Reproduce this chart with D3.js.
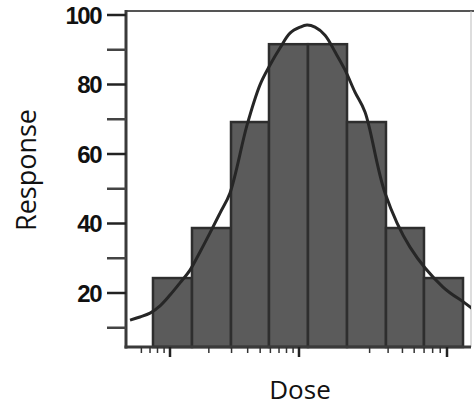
<!DOCTYPE html>
<html lang="en">
<head>
    <meta charset="UTF-8">
    <title>Dose response histogram</title>
    <style>
        body{
            overflow: hidden;
            margin: 0;
            background: #fff;
        }
    </style>
</head>
<body>
    <script src="https://cdnjs.cloudflare.com/ajax/libs/d3/7.8.2/d3.min.js"></script>
    <script>

// data
const binEdges = [0.738, 1.481, 2.971, 5.853, 11.50, 21.11, 38.70, 69.9, 128.3]
const responses = [24.3, 38.7, 69.2, 91.6, 91.6, 69.2, 38.7, 24.3]

const curveDose = [0.490, 0.585, 0.700, 0.837, 1.0, 1.195, 1.429, 1.708, 2.042, 2.442, 2.918,
    3.954, 4.985, 5.961, 7.124, 8.516, 10.16, 11.33, 12.83, 14.99, 17.51, 20.46, 23.89, 27.92,
    38.12, 56.23, 93.97, 132.3, 152.2]
const curveResp = [12.2, 13.1, 14.2, 16.3, 19.4, 22.9, 26.6, 31.8, 37.3, 43.0, 48.8,
    68.3, 79.9, 85.6, 90.5, 94.8, 96.5, 97.1, 96.5, 94.2, 89.4, 84.2, 77.8, 72.1,
    48.8, 33.2, 21.7, 17.1, 15.1]

const yMajor = [20, 40, 60, 80, 100]
const yMinor = [10, 30, 50, 70, 90]
const xMajor = [1, 10, 100]
const xMinor = [0.6, 0.7, 0.8, 0.9, 2, 3, 4, 5, 6, 7, 8, 9, 30, 40, 50, 60, 70, 80, 90]

const W = 474, H = 407
const plotL = 126, plotR = 471, plotT = 11, plotB = 347

const svg = d3.select('body')
    .append('svg')
    .attr('width', W)
    .attr('height', H)

const x = d3.scaleLog()
    .domain([1, 10, 100])
    .range([170, 299, 447])

const y = d3.scaleLinear()
    .domain([0, 100])
    .range([362.5, 15])

svg.append('clipPath').attr('id', 'plot')
    .append('rect')
    .attr('x', plotL).attr('y', plotT)
    .attr('width', plotR - plotL).attr('height', plotB - plotT)

// frame top / right
svg.append('line')
    .attr('x1', plotL).attr('x2', W).attr('y1', plotT).attr('y2', plotT)
    .attr('stroke', '#555').attr('stroke-width', 2)
svg.append('line')
    .attr('x1', plotR).attr('x2', plotR).attr('y1', plotT).attr('y2', plotB)
    .attr('stroke', '#bbb').attr('stroke-width', 1)

// bars
svg.append('g')
    .selectAll('rect')
    .data(responses)
    .join('rect')
    .attr('x', (d, i) => x(binEdges[i]))
    .attr('width', (d, i) => x(binEdges[i + 1]) - x(binEdges[i]))
    .attr('y', d => y(d))
    .attr('height', d => plotB - y(d))
    .attr('fill', '#5b5b5b')
    .attr('stroke', '#2e2e2e')
    .attr('stroke-width', 2.5)

// fitted curve
const line = d3.line()
    .x(d => x(d[0]))
    .y(d => y(d[1]))
    .curve(d3.curveCatmullRom)

svg.append('path')
    .datum(d3.zip(curveDose, curveResp))
    .attr('d', line)
    .attr('fill', 'none')
    .attr('stroke', '#262626')
    .attr('stroke-width', 3)
    .attr('clip-path', 'url(#plot)')

// y axis
svg.append('line')
    .attr('x1', plotL).attr('x2', plotL).attr('y1', plotT - 1).attr('y2', plotB + 1.5)
    .attr('stroke', '#3a3a3a').attr('stroke-width', 3)

svg.append('g')
    .selectAll('line')
    .data(yMajor.concat(yMinor))
    .join('line')
    .attr('x1', 107).attr('x2', plotL)
    .attr('y1', d => y(d)).attr('y2', d => y(d))
    .attr('stroke', d => yMajor.includes(d) ? '#222' : '#444')
    .attr('stroke-width', 2.5)

svg.append('g')
    .selectAll('text')
    .data(yMajor)
    .join('text')
    .attr('x', 101)
    .attr('y', d => y(d))
    .attr('dy', '0.36em')
    .attr('text-anchor', 'end')
    .style('font-family', '"Liberation Sans", Arial, sans-serif')
    .style('font-weight', 'bold')
    .style('font-size', '24px')
    .style('letter-spacing', '-1.5px')
    .attr('fill', '#111')
    .text(d => d)

// x axis
svg.append('line')
    .attr('x1', plotL - 1.5).attr('x2', plotR).attr('y1', plotB).attr('y2', plotB)
    .attr('stroke', '#3a3a3a').attr('stroke-width', 3)

svg.append('g')
    .selectAll('line')
    .data(xMinor)
    .join('line')
    .attr('x1', d => x(d)).attr('x2', d => x(d))
    .attr('y1', plotB).attr('y2', plotB + 6)
    .attr('stroke', '#333').attr('stroke-width', 1.5)

svg.append('g')
    .selectAll('line')
    .data(xMajor)
    .join('line')
    .attr('x1', d => x(d)).attr('x2', d => x(d))
    .attr('y1', plotB).attr('y2', plotB + 10)
    .attr('stroke', '#222').attr('stroke-width', 2.5)

// axis titles
svg.append('text')
    .attr('x', 300)
    .attr('y', 399)
    .attr('text-anchor', 'middle')
    .style('font-family', '"Open Sans", sans-serif')
    .style('font-size', '26px')
    .attr('fill', '#111')
    .text('Dose')

svg.append('text')
    .attr('transform', 'translate(36,170) rotate(-90)')
    .attr('text-anchor', 'middle')
    .style('font-family', '"Open Sans", sans-serif')
    .style('font-size', '27px')
    .attr('fill', '#111')
    .text('Response')

    </script>
</body>
</html>
